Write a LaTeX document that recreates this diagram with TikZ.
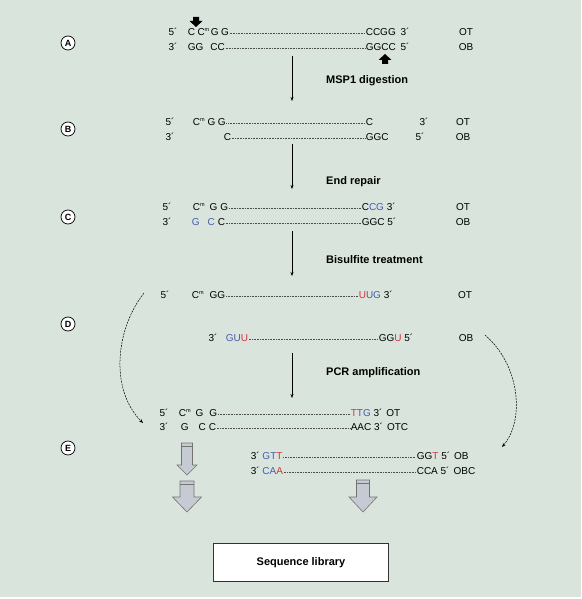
\documentclass[tikz,border=0pt]{standalone}
\usepackage{fontspec}
\setmainfont{Liberation Sans}
\usepackage{xcolor}
\usetikzlibrary{arrows.meta}
\definecolor{bsbg}{RGB}{216,228,220}
\definecolor{bsblue}{RGB}{72,92,172}
\definecolor{bsred}{RGB}{226,46,58}
\definecolor{bsgray}{RGB}{198,202,210}
\newcommand{\Cm}{C\raisebox{0.85ex}{\fontsize{5.5}{6}\selectfont m}}
\newcommand{\bl}[1]{\textcolor{bsblue}{#1}}
\newcommand{\rd}[1]{\textcolor{bsred}{#1}}

\begin{document}
\begin{tikzpicture}[x=1pt,y=-1pt,
  seq/.style={font=\fontsize{10}{12}\selectfont, inner sep=0pt, anchor=mid},
  lseq/.style={seq, anchor=mid west, inner xsep=0.6pt},
  rseq/.style={seq, anchor=mid west, inner xsep=0.6pt},
  stepname/.style={font=\bfseries\fontsize{11}{13}\selectfont, anchor=mid west, inner sep=0pt},
  stage/.style={draw, circle, fill=white, line width=0.7pt, inner sep=0pt, minimum size=14pt, font=\bfseries\fontsize{9}{10}\selectfont},
  strand/.style={draw=black!70, line width=0.45pt, dash pattern=on 1pt off 0.6pt},
  flow/.style={-{Stealth[length=4pt,width=3pt]}, line width=0.5pt},
  crossover/.style={dash pattern=on 2pt off 1pt, line width=0.5pt, -{Stealth[length=4pt,width=3pt]}},
  blockarrow/.style={fill=bsgray, draw=black!55, line width=0.6pt},
  libbox/.style={draw=black!80, fill=white, line width=1.8pt, minimum width=175pt, minimum height=38pt, font=\bfseries\fontsize{11}{13}\selectfont}]
\fill[bsbg] (0,0) rectangle (581,597);
\useasboundingbox (0,0) rectangle (581,599);

% stage markers
\foreach \s/\y in {A/43,B/129,C/217,D/324,E/448}
  \node[stage] (st\s) at (68,\y) {\s};

% (A)
\node[seq] (aT5) at (173,33) {5´};
\node[lseq] (aT-L) at (187,33) {C\hspace{2.5pt}\Cm\hspace{1.5pt}G\hspace{2.5pt}G};
\node[rseq] (aT-R) at (365,33) {CCGG};
\node[seq] (aT3) at (405,33) {3´};
\node[seq] (aTn) at (466,33) {OT};
\node[seq] (aB3) at (173,48) {3´};
\node[lseq] (aB-L) at (187,48) {GG\hspace{7pt}CC};
\node[rseq] (aB-R) at (365,48) {GGCC};
\node[seq] (aB5) at (405,48) {5´};
\node[seq] (aBn) at (466,48) {OB};
\fill[shift={(196,17)}] (-3,0) -- (3,0) -- (3,4) -- (6.5,4) -- (0,10) -- (-6.5,4) -- (-3,4) -- cycle;
\fill[shift={(385,54)}] (0,0) -- (6.5,6) -- (3,6) -- (3,10) -- (-3,10) -- (-3,6) -- (-6.5,6) -- cycle;

% (B)
\node[seq] (bT5) at (170,123) {5´};
\node[lseq] (bT-L) at (192,123) {\Cm\hspace{3pt}G\hspace{2.5pt}G};
\node[rseq] (bT-R) at (365,123) {C};
\node[seq] (bT3) at (424,123) {3´};
\node[seq] (bTn) at (463,123) {OT};
\node[seq] (bB3) at (170,138) {3´};
\node[lseq] (bB-L) at (223,138) {C};
\node[rseq] (bB-R) at (365,138) {GGC};
\node[seq] (bB5) at (420,138) {5´};
\node[seq] (bBn) at (463,138) {OB};

% (C)
\node[seq] (cT5) at (167,208) {5´};
\node[lseq] (cT-L) at (192,208) {\Cm\hspace{5pt}G\hspace{3pt}G};
\node[rseq] (cT-R) at (361,208) {C\bl{CG} 3´};
\node[seq] (cTn) at (463,208) {OT};
\node[seq] (cB3) at (167,223) {3´};
\node[lseq] (cB-L) at (191,223) {\bl{G}\hspace{8pt}\bl{C}\hspace{3pt}C};
\node[rseq] (cB-R) at (361,223) {GGC 5´};
\node[seq] (cBn) at (463,223) {OB};

% (D)
\node[seq] (dT5) at (165,296) {5´};
\node[lseq] (dT-L) at (191,296) {\Cm\hspace{6pt}GG};
\node[rseq] (dT-R) at (358,296) {\rd{U}\bl{UG} 3´};
\node[seq] (dTn) at (465,296) {OT};
\node[seq] (dB3) at (213,339) {3´};
\node[lseq] (dB-L) at (225,339) {\bl{GU}\rd{U}};
\node[rseq] (dB-R) at (378,339) {GG\rd{U} 5´};
\node[seq] (dBn) at (466,339) {OB};

% (E)
\node[seq] (eT5) at (164,414) {5´};
\node[lseq] (eT-L) at (178,414) {\Cm\hspace{5pt}G\hspace{6pt}G};
\node[rseq] (eT-R) at (350,414) {\rd{T}\bl{TG} 3´\hspace{4pt}OT};
\node[seq] (eB3) at (164,428) {3´};
\node[lseq] (eB-L) at (180,428) {G\hspace{10pt}C\hspace{3pt}C};
\node[rseq] (eB-R) at (350,428) {AAC 3´\hspace{4pt}OTC};
\node[lseq] (fT-L) at (250,457) {3´ \bl{GT}\rd{T}};
\node[rseq] (fT-R) at (416,457) {GG\rd{T} 5´\hspace{4pt}OB};
\node[lseq] (fB-L) at (250,472) {3´ \bl{CA}\rd{A}};
\node[rseq] (fB-R) at (416,472) {CCA 5´\hspace{4pt}OBC};

\foreach \r in {aT,aB,bT,bB,cT,cB,dT,dB,eT,eB,fT,fB}
  \draw[strand] (\r-L.mid east) -- (\r-R.mid west);

% main flow
\foreach \i/\a/\b in {1/56/101,2/144/189,3/231/276,4/353/398} {
  \coordinate (in\i) at (292,\a);
  \coordinate (out\i) at (292,\b);
  \draw[flow] (in\i) -- (out\i);
}
\node[stepname] (lbMsp) at (326,81) {MSP1 digestion};
\node[stepname] (lbRep) at (326,182) {End repair};
\node[stepname] (lbBis) at (326,261) {Bisulfite treatment};
\node[stepname] (lbPcr) at (326,373) {PCR amplification};

% strands carried over to (E)
\coordinate (otFrom) at (144,293);
\coordinate (otTo) at (143,423);
\coordinate (obFrom) at (485,335);
\coordinate (obTo) at (502,447);
\draw[crossover] (otFrom) .. controls (115,330) and (110,390) .. (otTo);
\draw[crossover] (obFrom) .. controls (520,365) and (525,420) .. (obTo);

% grey block arrows
\foreach \x/\t/\w/\h/\e/\n in {187/443/5.5/10/465/475, 187/481/7/14.5/497/512, 363/480/6.5/14/497/512} {
  \draw[blockarrow] ({\x-\w},\t) -- ({\x+\w},\t) -- ({\x+\w},\e) -- ({\x+\h},\e)
    -- (\x,\n) -- ({\x-\h},\e) -- ({\x-\w},\e) -- cycle;
  \draw[black!55, line width=0.6pt] ({\x-\w},{\t+3}) -- ({\x+\w},{\t+3});
}

\node[libbox] (lib) at (301,562.5) {Sequence library};
\end{tikzpicture}
\end{document}
